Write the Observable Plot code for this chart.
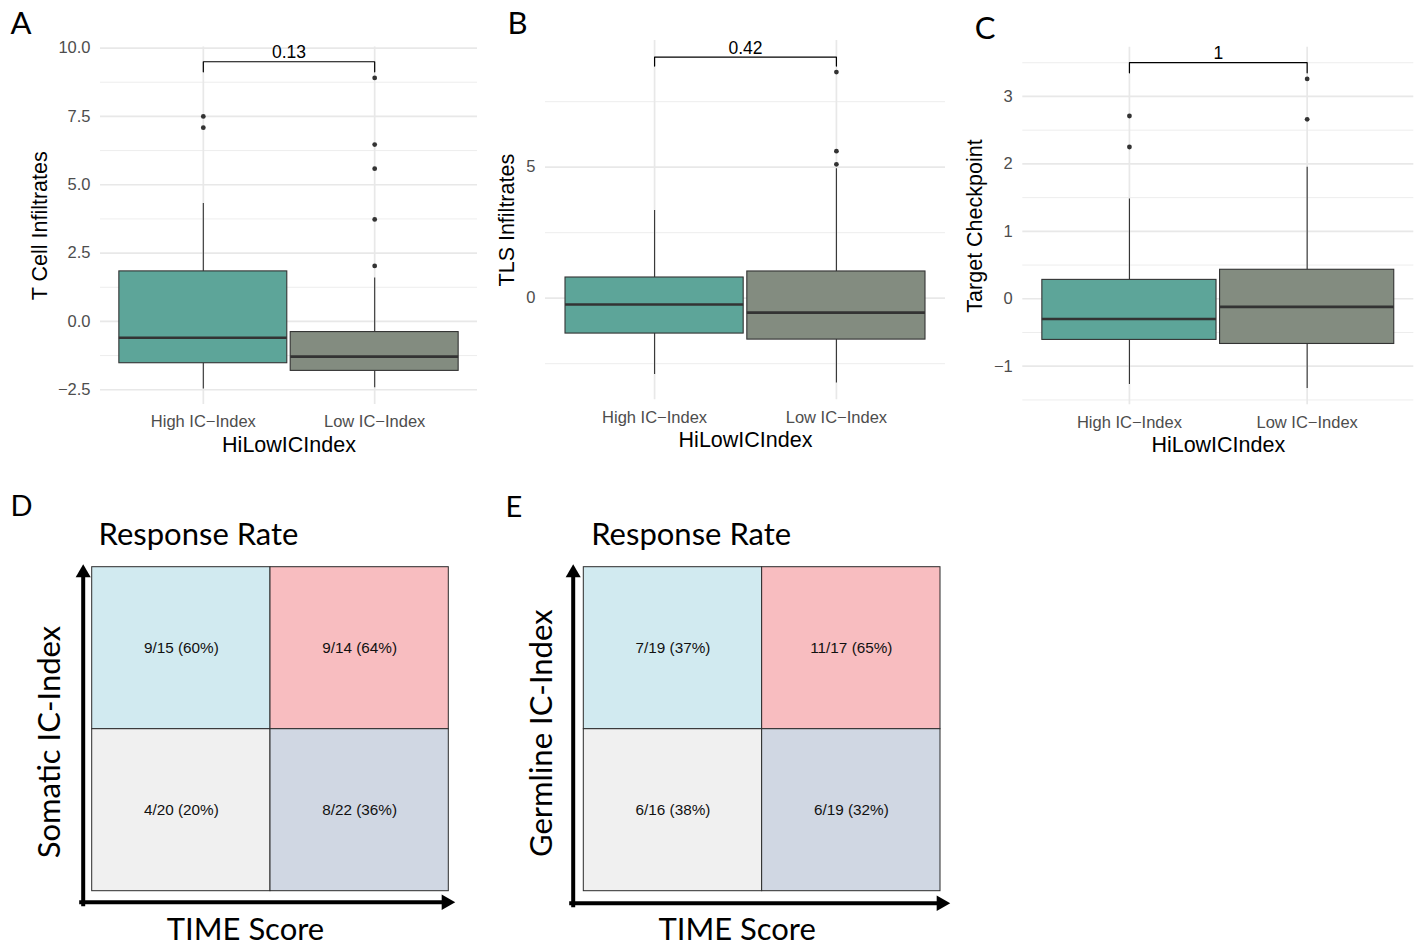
<!DOCTYPE html>
<html>
<head>
<meta charset="utf-8">
<script src="https://cdn.jsdelivr.net/npm/d3@7"></script>
<script src="https://cdn.jsdelivr.net/npm/@observablehq/plot@0.6"></script>
<style>
  body { margin: 0; background: #fff; }
  #page { position: relative; width: 1421px; height: 947px; overflow: hidden; background: #fff; }
  #page svg { position: absolute; }
</style>
</head>
<body>
<div id="page"></div>
<script>
// ---------------- DATA ----------------
const groups = ["High IC\u2212Index", "Low IC\u2212Index"];
const groupPos = [1, 2];
const xTitle = "HiLowICIndex";

// Panel A: T Cell Infiltrates
const aWhiskerLow  = [-2.47, -2.43];
const aQ1          = [-1.53, -1.81];
const aMedian      = [-0.60, -1.29];
const aQ3          = [ 1.83, -0.39];
const aWhiskerHigh = [ 4.31,  1.59];
const aOutliers    = [[7.50, 7.09], [8.91, 6.47, 5.59, 3.73, 2.03]];
const aMajorTicks  = [-2.5, 0, 2.5, 5, 7.5, 10];
const aMinorTicks  = [-1.25, 1.25, 3.75, 6.25, 8.75];
const aBracket     = [9.13, 9.50];
const aPValue      = "0.13";

// Panel B: TLS Infiltrates
const bWhiskerLow  = [-2.91, -3.24];
const bQ1          = [-1.35, -1.58];
const bMedian      = [-0.24, -0.55];
const bQ3          = [ 0.79,  1.02];
const bWhiskerHigh = [ 3.35,  4.94];
const bOutliers    = [[], [8.63, 5.61, 5.11]];
const bMajorTicks  = [0, 5];
const bMinorTicks  = [-2.5, 2.5, 7.5];
const bBracket     = [8.86, 9.20];
const bPValue      = "0.42";

// Panel C: Target Checkpoint
const cWhiskerLow  = [-1.27, -1.33];
const cQ1          = [-0.61, -0.67];
const cMedian      = [-0.30, -0.12];
const cQ3          = [ 0.28,  0.43];
const cWhiskerHigh = [ 1.48,  1.95];
const cOutliers    = [[2.71, 2.25], [3.26, 2.66]];
const cMajorTicks  = [-1, 0, 1, 2, 3];
const cMinorTicks  = [-1.5, -0.5, 0.5, 1.5, 2.5, 3.5];
const cBracket     = [3.35, 3.50];
const cPValue      = "1";

// Panels D / E: response-rate quadrants (col 0 = low TIME, 1 = high TIME; row 1 = high IC-Index)
const quadCols = [0, 1, 0, 1];
const quadRows = [1, 1, 0, 0];
const dLabels = ["9/15 (60%)", "9/14 (64%)", "4/20 (20%)", "8/22 (36%)"];
const eLabels = ["7/19 (37%)", "11/17 (65%)", "6/16 (38%)", "6/19 (32%)"];
const gridTitle = "Response Rate";
const gridXTitle = "TIME Score";

// ---------------- STYLE ----------------
const boxFills = ["#5da599", "#838c80"];
const quadFills = ["#d1eaf0", "#f8bdc0", "#f0f0f0", "#d0d7e3"];
const ggFont = "'Liberation Sans', Arial, Helvetica, sans-serif";
const letterFont = "Lato, 'Open Sans', sans-serif";
const page = document.getElementById("page");

function boxPanel(cfg) {
  const rows = groups.map((g, i) => ({
    g, pos: groupPos[i], lo: cfg.lo[i], q1: cfg.q1[i], med: cfg.med[i], q3: cfg.q3[i], hi: cfg.hi[i], fill: boxFills[i]
  }));
  const outl = cfg.outliers.flatMap((vals, i) => vals.map(v => ({pos: groupPos[i], v})));
  const mid = (groupPos[0] + groupPos[1]) / 2;
  const bracketPts = [
    {x: groupPos[0], y: cfg.bracket[0]}, {x: groupPos[0], y: cfg.bracket[1]},
    {x: groupPos[1], y: cfg.bracket[1]}, {x: groupPos[1], y: cfg.bracket[0]}
  ];
  const halfW = 0.49;
  const svg = Plot.plot({
    width: cfg.width, height: cfg.height,
    marginLeft: cfg.m[0], marginRight: cfg.m[1], marginTop: cfg.m[2], marginBottom: cfg.m[3],
    style: {fontFamily: ggFont, background: "transparent", overflow: "visible"},
    x: {type: "linear", domain: [0.4, 2.6], axis: null},
    y: {domain: cfg.yDomain, axis: null},
    marks: [
      Plot.ruleY(cfg.minor, {stroke: "#ebebeb", strokeWidth: 0.9}),
      Plot.ruleY(cfg.major, {stroke: "#e8e8e8", strokeWidth: 1.7}),
      Plot.ruleX(groupPos, {stroke: "#e8e8e8", strokeWidth: 1.7}),
      Plot.axisY(cfg.major, {tickSize: 0, tickPadding: 10, fontSize: 16.5, color: "#4d4d4d", tickFormat: cfg.fmt, label: null}),
      Plot.axisX(groupPos, {tickSize: 0, tickPadding: 11, fontSize: 16.5, color: "#4d4d4d", tickFormat: d => groups[groupPos.indexOf(d)], label: null}),
      Plot.ruleX(rows, {x: "pos", y1: "lo", y2: "q1", stroke: "#333", strokeWidth: 1.1}),
      Plot.ruleX(rows, {x: "pos", y1: "q3", y2: "hi", stroke: "#333", strokeWidth: 1.1}),
      ...rows.map(r => Plot.rect([r], {x1: d => d.pos - halfW, x2: d => d.pos + halfW, y1: "q1", y2: "q3", fill: r.fill, stroke: "#333", strokeWidth: 1.1})),
      Plot.ruleY(rows, {y: "med", x1: d => d.pos - halfW, x2: d => d.pos + halfW, stroke: "#333", strokeWidth: 2.6}),
      Plot.dot(outl, {x: "pos", y: "v", r: 2.4, fill: "#333", stroke: null}),
      Plot.line(bracketPts, {x: "x", y: "y", stroke: "#000", strokeWidth: 1.2}),
      Plot.text([cfg.p], {x: mid, y: cfg.bracket[1], dy: -9, lineAnchor: "middle", fontSize: 17.5, fill: "#000"}),
      Plot.text([xTitle], {frameAnchor: "bottom", dy: cfg.xTitleDy, textAnchor: "middle", lineAnchor: "middle", fontSize: 21.5, fill: "#000"}),
      Plot.text([cfg.yTitle], {frameAnchor: "left", dx: cfg.yTitleDx, rotate: -90, textAnchor: "middle", lineAnchor: "middle", fontSize: 21.5, fill: "#000"}),
      Plot.text([cfg.letter], {frameAnchor: "top-left", textAnchor: "start", lineAnchor: "bottom", dx: cfg.letterD[0], dy: cfg.letterD[1], fontSize: 31, fontFamily: letterFont, fill: "#000"})
    ]
  });
  svg.style.left = cfg.left + "px";
  svg.style.top = cfg.top + "px";
  page.appendChild(svg);
}

function gridPanel(cfg) {
  const cells = cfg.labels.map((label, i) => ({label, c: quadCols[i], r: quadRows[i], fill: quadFills[i]}));
  const svg = Plot.plot({
    width: cfg.width, height: cfg.height,
    marginLeft: cfg.m[0], marginRight: cfg.m[1], marginTop: cfg.m[2], marginBottom: cfg.m[3],
    style: {fontFamily: ggFont, background: "transparent", overflow: "visible"},
    x: {domain: [0, 2], axis: null},
    y: {domain: [0, 2], axis: null},
    marks: [
      ...cells.map(c => Plot.rect([c], {x1: "c", x2: d => d.c + 1, y1: "r", y2: d => d.r + 1, fill: c.fill, stroke: "#2b2b2b", strokeWidth: 1})),
      Plot.text(cells, {x: d => d.c + 0.5, y: d => d.r + 0.5, text: "label", fontSize: 15.3, fill: "#111"}),
      // axis arrows
      Plot.frame({anchor: "left", insetLeft: cfg.arrowV.insetLeft, insetTop: 10, insetBottom: cfg.arrowV.insetBottom, stroke: "#000", strokeWidth: 4}),
      Plot.frame({anchor: "bottom", insetBottom: cfg.arrowH.insetBottom, insetLeft: cfg.arrowH.insetLeft, insetRight: cfg.arrowH.insetRight, stroke: "#000", strokeWidth: 4}),
      Plot.dot([0], {frameAnchor: "top-left", dx: cfg.arrowV.headDx, dy: 5.8, symbol: "triangle", r: 5.6, fill: "#000", stroke: null}),
      Plot.dot([0], {frameAnchor: "bottom-right", dx: cfg.arrowH.headDx, dy: cfg.arrowH.headDy, symbol: "triangle", rotate: 90, r: 5.8, fill: "#000", stroke: null}),
      Plot.text([gridTitle], {frameAnchor: "top-left", textAnchor: "start", lineAnchor: "middle", dx: cfg.titleDx, dy: -31.7, fontSize: 31, fontFamily: letterFont, fill: "#000"}),
      Plot.text([gridXTitle], {frameAnchor: "bottom", textAnchor: "middle", lineAnchor: "middle", dx: -25, dy: 39, fontSize: 31, fontFamily: letterFont, fill: "#000"}),
      Plot.text([cfg.yTitle], {frameAnchor: "left", rotate: -90, textAnchor: "middle", lineAnchor: "middle", dx: cfg.yTitleD[0], dy: cfg.yTitleD[1], fontSize: 31, fontFamily: letterFont, fill: "#000"}),
      Plot.text([cfg.letter], {frameAnchor: "top-left", textAnchor: "start", lineAnchor: "bottom", dx: cfg.letterD[0], dy: cfg.letterD[1], fontSize: 29, fontFamily: letterFont, fill: "#000"})
    ]
  });
  svg.style.left = cfg.left + "px";
  svg.style.top = cfg.top + "px";
  page.appendChild(svg);
}

const fmt1 = d3.format(".1f");
const fmt0 = d3.format("d");

boxPanel({left: 0, top: 0, width: 480, height: 460, m: [100, 3, 46.5, 56], yDomain: [-3.04, 10.04],
  lo: aWhiskerLow, q1: aQ1, med: aMedian, q3: aQ3, hi: aWhiskerHigh, outliers: aOutliers,
  major: aMajorTicks, minor: aMinorTicks, fmt: fmt1, bracket: aBracket, p: aPValue,
  yTitle: "T Cell Infiltrates", yTitleDx: -60.5, xTitleDy: 41, letter: "A", letterD: [-90, -13.5]});

boxPanel({left: 480, top: 0, width: 480, height: 460, m: [65, 15, 40, 60.7], yDomain: [-3.878, 9.836],
  lo: bWhiskerLow, q1: bQ1, med: bMedian, q3: bQ3, hi: bWhiskerHigh, outliers: bOutliers,
  major: bMajorTicks, minor: bMinorTicks, fmt: fmt0, bracket: bBracket, p: bPValue,
  yTitle: "TLS Infiltrates", yTitleDx: -38, xTitleDy: 40.7, letter: "B", letterD: [-38, -7]});

boxPanel({left: 950, top: 0, width: 471, height: 460, m: [72.3, 7.7, 46.7, 55.7], yDomain: [-1.572, 3.73],
  lo: cWhiskerLow, q1: cQ1, med: cMedian, q3: cQ3, hi: cWhiskerHigh, outliers: cOutliers,
  major: cMajorTicks, minor: cMinorTicks, fmt: fmt0, bracket: cBracket, p: cPValue,
  yTitle: "Target Checkpoint", yTitleDx: -47.3, xTitleDy: 40, letter: "C", letterD: [-48, -8]});

gridPanel({left: 0, top: 480, width: 480, height: 467, m: [91.7, 31.7, 86.7, 56.3], labels: dLabels,
  arrowV: {insetLeft: -9, insetBottom: -13, headDx: -9},
  arrowH: {insetBottom: -11, insetLeft: -11, insetRight: 7.3, headDx: -2.6, headDy: 11},
  titleDx: 6.3, yTitle: "Somatic IC-Index", yTitleD: [-42, 12.8], letter: "D", letterD: [-81.7, -51]});

gridPanel({left: 490, top: 480, width: 480, height: 467, m: [93.3, 30, 86.7, 56.3], labels: eLabels,
  arrowV: {insetLeft: -10.6, insetBottom: -14, headDx: -10.6},
  arrowH: {insetBottom: -12, insetLeft: -12.6, insetRight: 3.3, headDx: 0.7, headDy: 12},
  titleDx: 7.4, yTitle: "Germline IC-Index", yTitleD: [-41.6, 4], letter: "E", letterD: [-78.3, -50]});
</script>
</body>
</html>
